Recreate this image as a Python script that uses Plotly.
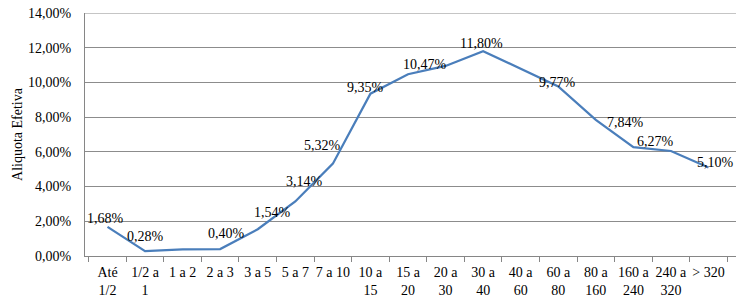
import plotly.graph_objects as go

categories = ["Até<br>1/2", "1/2 a<br>1", "1 a 2", "2 a 3", "3 a 5", "5 a 7", "7 a 10",
              "10 a<br>15", "15 a<br>20", "20 a<br>30", "30 a<br>40", "40 a<br>60",
              "60 a<br>80", "80 a<br>160", "160 a<br>240", "240 a<br>320", "> 320"]
aliquota = [1.68, 0.28, 0.38, 0.40, 1.54, 3.14, 5.32, 9.35, 10.47, 10.95, 11.80,
            10.80, 9.77, 7.84, 6.27, 6.05, 5.10]
labeled = [True, True, False, True, True, True, True, True, True, False, True,
           False, True, True, True, False, True]
y_max = 14

# label offsets in pixels (styling)
label_dx = [-2, 0, 0, 6, 15, 9, -10, -5, 17, 0, -2, 0, -1, 30, 22, 0, 7]
label_dy = [8, 15, 0, 16, 17, 20, 18, 6, 10, 0, 8, 0, 4, -3, 6, 0, 5]

FONT = "Liberation Serif, Times New Roman, serif"
GRID = "#8C8C8C"

fig = go.Figure()
fig.add_trace(go.Scatter(
    x=categories, y=aliquota, mode="lines",
    line=dict(color="#4A7EBB", width=2.25),
    hoverinfo="skip", showlegend=False,
))

for i, (c, v) in enumerate(zip(categories, aliquota)):
    if not labeled[i]:
        continue
    fig.add_annotation(
        x=c, y=v, text=f"{v:.2f}".replace(".", ",") + "%",
        showarrow=False, xshift=label_dx[i], yshift=label_dy[i],
        font=dict(family=FONT, size=14, color="#000000"),
    )

# top gridline (Plotly drops the grid line at the range edge)
fig.add_shape(type="line", xref="paper", yref="y", x0=0, x1=1, y0=y_max, y1=y_max,
              line=dict(color=GRID, width=1), layer="below")

fig.update_layout(
    width=750, height=305,
    margin=dict(l=85, r=14, t=13, b=49),
    paper_bgcolor="white", plot_bgcolor="white",
    separators=",.",
    font=dict(family=FONT, size=14, color="#000000"),
    showlegend=False,
)
fig.update_xaxes(
    type="category", tickson="boundaries", ticks="outside", ticklen=5,
    tickcolor="#868686", showline=True, linecolor="#868686", linewidth=1,
    showgrid=False, tickangle=0, tickfont=dict(family=FONT, size=14),
    ticklabelstandoff=3, automargin=False,
)
fig.update_yaxes(
    range=[0, y_max], dtick=2, tickformat=".2f", ticksuffix="%",
    showgrid=True, gridcolor=GRID, gridwidth=1,
    showline=True, linecolor="#868686", linewidth=1,
    zeroline=False, ticks="", ticklabelstandoff=10,
    title=dict(text="Aliquota Efetiva", font=dict(family=FONT, size=14), standoff=2),
    tickfont=dict(family=FONT, size=14),
    automargin=False,
)

fig.write_html("out.html", config={"displayModeBar": False},
               post_script="document.body.style.margin='0px';")
